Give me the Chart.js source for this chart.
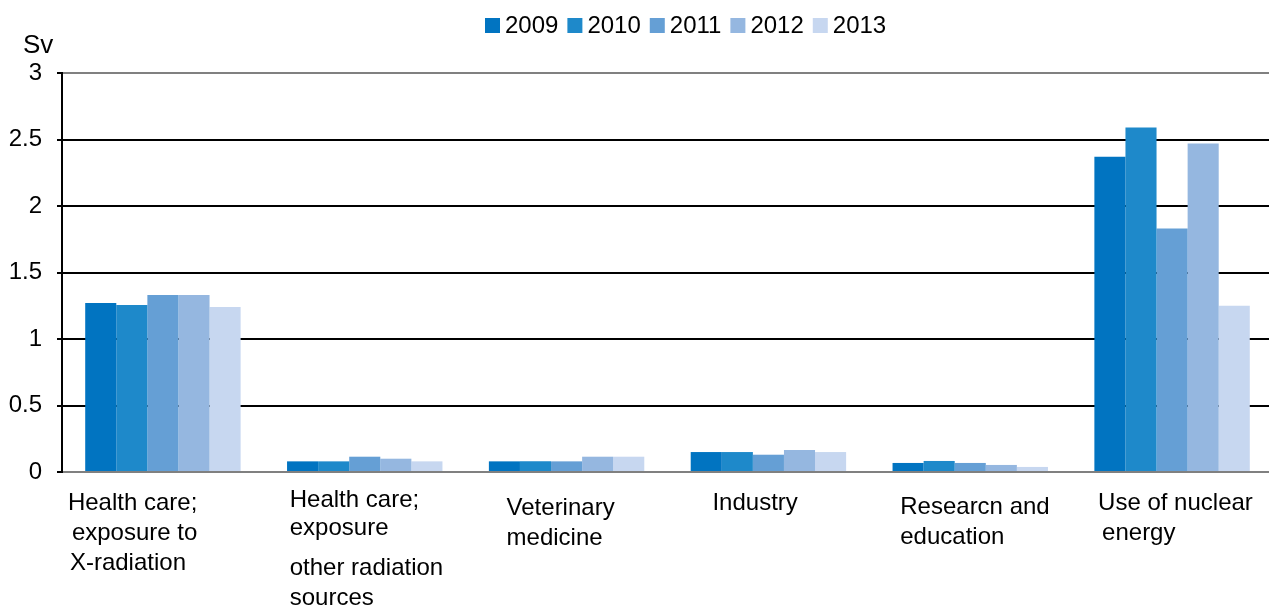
<!DOCTYPE html>
<html>
<head>
<meta charset="utf-8">
<title>Sv by sector</title>
<script src="https://cdn.jsdelivr.net/npm/chart.js@4.4.1/dist/chart.umd.min.js"></script>
<style>
  html, body { margin: 0; padding: 0; background: #fff; }
  #wrap { width: 1269px; height: 607px; overflow: hidden; }
</style>
</head>
<body>
<div id="wrap"><canvas id="grafico" width="1269" height="607"></canvas></div>
<script>
// categorias (linhas do rótulo)
const categorias = [
  ["Health care;", "exposure to", "X-radiation"],
  ["Health care;", "exposure", "other radiation", "sources"],
  ["Veterinary", "medicine"],
  ["Industry"],
  ["Researcn and", "education"],
  ["Use of nuclear", "energy"]
];
const anos = ["2009", "2010", "2011", "2012", "2013"];

// valores em Sv
const v2009 = [1.27, 0.08, 0.08, 0.15, 0.068, 2.37];
const v2010 = [1.255, 0.08, 0.08, 0.15, 0.083, 2.59];
const v2011 = [1.33, 0.115, 0.08, 0.13, 0.068, 1.83];
const v2012 = [1.33, 0.10, 0.115, 0.165, 0.053, 2.47];
const v2013 = [1.24, 0.08, 0.115, 0.15, 0.038, 1.25];

const yTicks = [0, 0.5, 1, 1.5, 2, 2.5, 3];

const cores = ["#0174C1", "#1E89CA", "#659FD5", "#95B7E0", "#C7D7F0"];

// posição dos rótulos do eixo x (relativo ao centro da categoria)
const rotuloDx = [-95, -75, -60, -56, -70, -74];
const linhaDx = [[0, 4, 2], [0, 0, 0, 0], [0, 0], [0], [0, 0], [0, 4]];
const linhaY = [[503, 533, 563], [500, 528, 568, 598], [508, 538], [503], [507, 537], [503, 533]];

const fonte = "'Liberation Sans', Arial, sans-serif";

// o eixo x passa um pouco da borda direita, como no original
const esticaX = {
  id: "esticaX",
  afterLayout(chart) {
    const x = chart.scales.x;
    x.right += 4;
    x.width += 4;
    x.configure();
  }
};

// rótulos do eixo x, unidade e legenda
const textos = {
  id: "textos",
  afterDraw(chart) {
    const ctx = chart.ctx;
    const x = chart.scales.x;
    ctx.save();
    ctx.fillStyle = "#000";
    ctx.font = "24px " + fonte;
    ctx.textAlign = "left";
    ctx.textBaseline = "middle";
    categorias.forEach((linhas, i) => {
      const x0 = x.getPixelForValue(i) + rotuloDx[i];
      linhas.forEach((t, j) => ctx.fillText(t, x0 + linhaDx[i][j], linhaY[i][j]));
    });

    // legenda
    let lx = 485;
    chart.data.datasets.forEach(ds => {
      ctx.fillStyle = ds.backgroundColor;
      ctx.fillRect(lx, 18, 15, 15);
      ctx.fillStyle = "#000";
      ctx.fillText(ds.label, lx + 20, 26);
      lx += 20 + ctx.measureText(ds.label).width + 9;
    });

    // unidade
    ctx.font = "26px " + fonte;
    ctx.fillText("Sv", 23, 46);
    ctx.restore();
  }
};

const series = [v2009, v2010, v2011, v2012, v2013];

new Chart(document.getElementById("grafico"), {
  type: "bar",
  data: {
    labels: categorias,
    datasets: series.map((d, i) => ({
      label: anos[i],
      data: d,
      backgroundColor: cores[i],
      borderWidth: 0,
      categoryPercentage: 0.77,
      barPercentage: 1.0
    }))
  },
  options: {
    responsive: false,
    animation: false,
    layout: { padding: { top: 73, right: 0, bottom: 135, left: 0 } },
    plugins: {
      legend: { display: false },
      tooltip: { enabled: false }
    },
    scales: {
      x: {
        ticks: { display: false },
        grid: { display: false, drawTicks: false },
        border: { display: false }
      },
      y: {
        min: 0,
        max: 3,
        afterBuildTicks(scale) { scale.ticks = yTicks.map(v => ({ value: v })); },
        afterFit(scale) { scale.width = 62; },
        ticks: {
          padding: 15,
          color: "#000",
          font: { family: fonte, size: 24 },
          callback: v => String(v)
        },
        grid: {
          color: c => (c.tick && (c.tick.value === 0 || c.tick.value === 3)) ? "#808080" : "#000",
          lineWidth: 2,
          tickColor: "#000",
          tickLength: 5
        },
        border: { color: "#000", width: 2 }
      }
    }
  },
  plugins: [esticaX, textos]
});
</script>
</body>
</html>
